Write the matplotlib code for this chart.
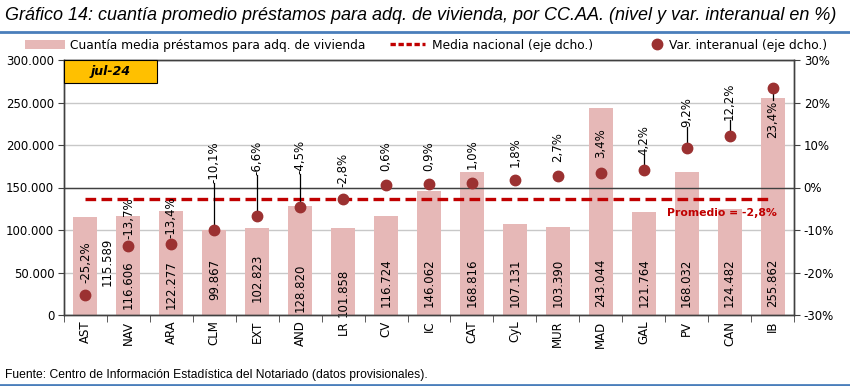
import matplotlib
matplotlib.use("Agg")
import matplotlib.pyplot as plt
from matplotlib import font_manager
from matplotlib.patches import Patch, Rectangle
from matplotlib.lines import Line2D
import numpy as np

# ---- data ----
regions = ["AST", "NAV", "ARA", "CLM", "EXT", "AND", "LR", "CV", "IC", "CAT",
           "CyL", "MUR", "MAD", "GAL", "PV", "CAN", "IB"]
amount = [115589, 116606, 122277, 99867, 102823, 128820, 101858, 116724, 146062,
          168816, 107131, 103390, 243044, 121764, 168032, 124482, 255862]
var_pct = [-25.2, -13.7, -13.4, -10.1, -6.6, -4.5, -2.8, 0.6, 0.9, 1.0,
           1.8, 2.7, 3.4, 4.2, 9.2, 12.2, 23.4]
national_avg = -2.8
period = "jul-24"

# ---- layout of labels (positions, not data) ----
pct_label_pos = [-22.5, -12.1, -11.9, 1.1, 2.9, 3.2, 0.1, 3.9, 3.9, 4.3,
                 4.8, 6.0, 7.0, 7.6, 14.2, 15.9, 11.6]
leader = [False, False, False, True, True, True, False, False, False, False,
          False, False, False, True, True, True, True]
amt_label_pos = [62353, 35294, 35294, 42353, 43529, 32353, 25882, 38235, 38235,
                 38235, 38235, 38235, 38235, 38235, 38235, 38235, 38235]
amt_label_dx = [0.5] + [0.0] * 16

BAR = "#E6B8B7"
DOT = "#9B3131"
RED = "#C00000"
BLUE = "#4A7EBB"
FONT = "DejaVu Sans"

names = {f.name for f in font_manager.fontManager.ttflist}
if "Liberation Sans Narrow" in names:
    NARROW = ["Liberation Sans Narrow", "DejaVu Sans"]
    title_size, src_size = 15, 9.6
else:
    NARROW = ["Liberation Sans", "DejaVu Sans"]
    title_size, src_size = 13, 8.7

def fmt_thousands(v):
    return f"{v:,.0f}".replace(",", ".")

def fmt_pct(v):
    return f"{v:.1f}%".replace(".", ",")

fig = plt.figure(figsize=(8.5, 3.86), dpi=100)
ax = fig.add_axes([64/850, 1-315/386, 730/850, 255/386])
ax2 = ax.twinx()

x = np.arange(len(regions))
ax.bar(x, amount, width=0.56, color=BAR, zorder=2)
ax.set_xlim(-0.5, len(regions) - 0.5)
ax.set_ylim(0, 300000)
ax.set_yticks(np.arange(0, 300001, 50000))
ax.set_yticklabels([fmt_thousands(v) for v in np.arange(0, 300001, 50000)],
                   fontsize=8.5, family=FONT)
ax.yaxis.grid(True, color="#C8C8C8", lw=1, zorder=0)
ax.set_axisbelow(True)
ax.set_xticks(x)
ax.set_xticklabels(regions, rotation=90, fontsize=8.5, family=FONT)
ax.tick_params(axis="x", length=0, pad=4)
ax.set_xticks(np.arange(-0.5, len(regions), 1), minor=True)
ax.tick_params(axis="x", which="minor", length=5, direction="out", color="#404040")
ax.tick_params(axis="y", length=4, direction="out", color="#404040", pad=3)
for s in ax.spines.values():
    s.set_color("#404040")
    s.set_linewidth(1)

for i, v in enumerate(amount):
    ax.text(x[i] + amt_label_dx[i], amt_label_pos[i], fmt_thousands(v),
            rotation=90, ha="center", va="center", fontsize=8.5, family=FONT,
            zorder=5)

# right axis
ax2.set_ylim(-30, 30)
ax2.set_yticks(np.arange(-30, 31, 10))
ax2.set_yticklabels([f"{v}%" for v in np.arange(-30, 31, 10)], fontsize=8.5,
                    family=FONT)
ax2.tick_params(axis="y", length=4, direction="out", color="#404040", pad=3)
for s in ax2.spines.values():
    s.set_color("#404040")
    s.set_linewidth(1)
ax2.axhline(0, color="#404040", lw=1, zorder=1)
ax2.plot([x[0], x[-1]], [national_avg, national_avg], color=RED, lw=2.4,
         dashes=(3.2, 1.6), zorder=3)
ax2.text(x[-1] + 0.1, national_avg - 3.3, "Promedio = " + fmt_pct(national_avg),
         color=RED, fontsize=7.8, fontweight="bold", family=FONT,
         ha="right", va="center", zorder=6)

for i, v in enumerate(var_pct):
    p = pct_label_pos[i]
    if leader[i]:
        if p > v:
            ax2.plot([x[i], x[i]], [v, p], color="black", lw=0.9, zorder=3)
        else:
            top = p + 9.0
            ax2.plot([x[i], x[i]], [v, top], color="black", lw=0.9, zorder=3)
    ax2.text(x[i], p, fmt_pct(v), rotation=90, ha="center", va="bottom",
             fontsize=8.5, family=FONT, zorder=5)
ax2.plot(x, var_pct, "o", color=DOT, ms=7.5, zorder=4)

# period box
fig.patches.append(Rectangle((64/850, 1-83/386), 93/850, 23/386,
                             transform=fig.transFigure, facecolor="#FFC000",
                             edgecolor="black", lw=0.8, zorder=10))
fig.text((64 + 46.5)/850, 1-71.5/386, period, ha="center", va="center",
         fontsize=9, fontweight="bold", style="italic", family=FONT, zorder=11)

# legend: three single-entry legends placed like the reference
leg_y = 1 - 45/386
entries = [
    (Patch(facecolor=BAR, edgecolor="none"),
     "Cuantía media préstamos para adq. de vivienda", 25, 3.3, 0.4),
    (Line2D([], [], color=RED, lw=2.4, dashes=(1.6, 0.8)),
     "Media nacional (eje dcho.)", 390, 2.9, 0.5),
    (Line2D([], [], marker="o", color=DOT, ls="none", ms=7.5),
     "Var. interanual (eje dcho.)", 651, 1.0, 0.5),
]
for h, lab, x0, hl, tp in entries:
    fig.legend([h], [lab], loc="center left", bbox_to_anchor=(x0/850, leg_y),
               frameon=False, prop={"family": FONT, "size": 8.8},
               handlelength=hl, handletextpad=tp, borderpad=0,
               borderaxespad=0)

# title, source and rules
fig.text(5/850, 1-15/386,
         "Gráfico 14: cuantía promedio préstamos para adq. de vivienda, por CC.AA. (nivel y var. interanual en %)",
         ha="left", va="center", fontsize=title_size, style="italic", family=NARROW)
fig.add_artist(Line2D([0, 1], [1-32/386, 1-32/386], color=BLUE, lw=2,
                      transform=fig.transFigure))
fig.text(5/850, 1-375/386,
         "Fuente: Centro de Información Estadística del Notariado (datos provisionales).",
         ha="left", va="center", fontsize=src_size, family=NARROW)
fig.add_artist(Line2D([0, 1], [1-385/386, 1-385/386], color=BLUE, lw=2,
                      transform=fig.transFigure))

fig.savefig("out.png", dpi=100, facecolor="white")
